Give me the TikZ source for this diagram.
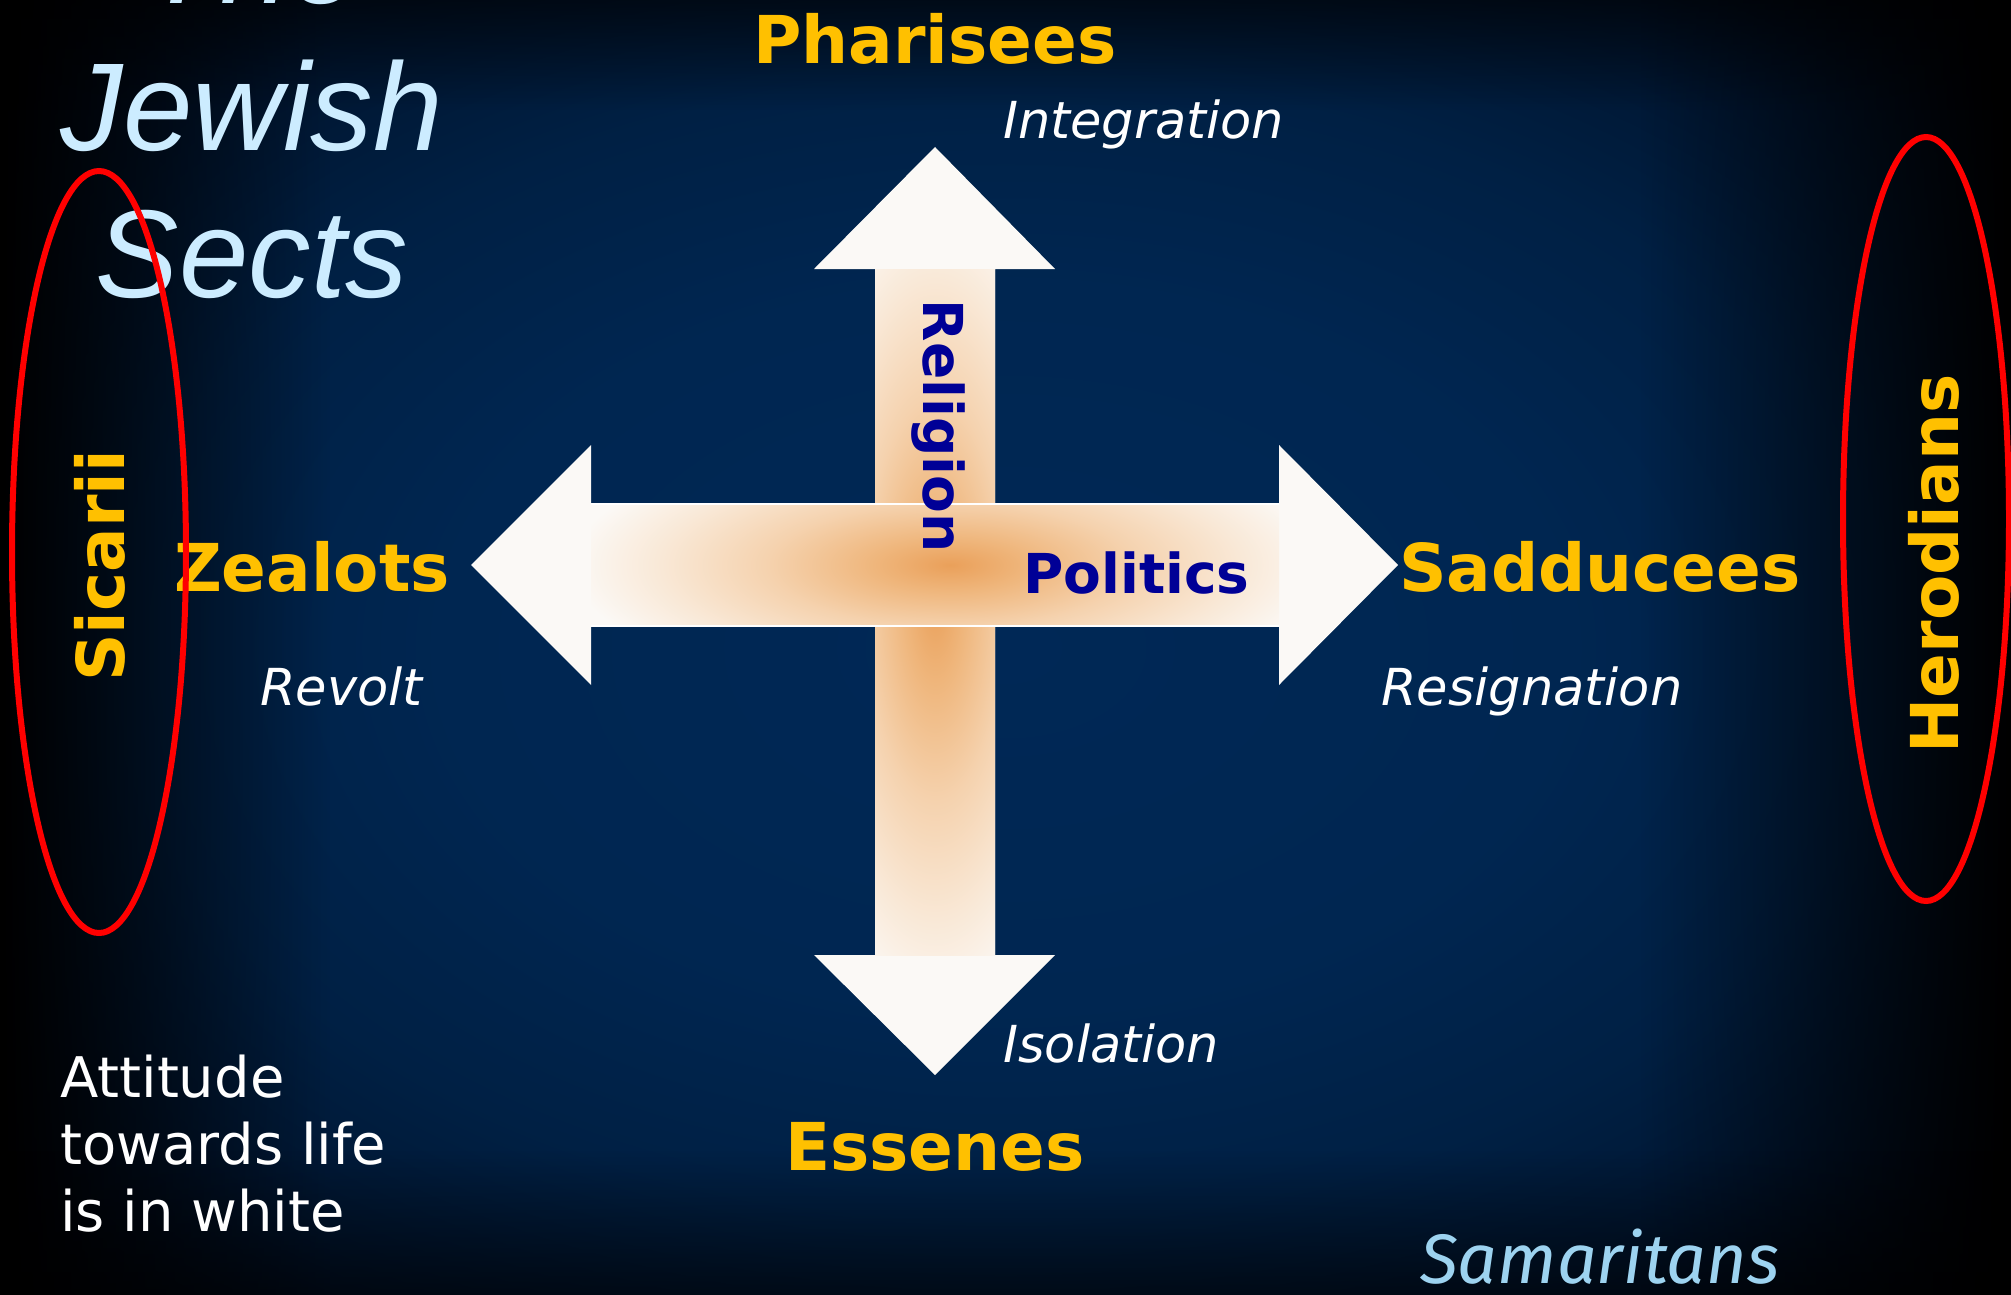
\documentclass[tikz,border=0pt]{standalone}
\usepackage{fontspec}
\usetikzlibrary{fadings}
\setmainfont{DejaVu Sans}
\newfontfamily\titlefont{Liberation Sans}
\newfontfamily\samfont{Fira Sans}
\definecolor{gold}{RGB}{255,192,0}
\definecolor{titleblue}{RGB}{204,236,255}
\definecolor{samblue}{RGB}{157,211,240}
\definecolor{dblue}{RGB}{0,0,150}
\definecolor{bgA}{RGB}{0,40,86}
\definecolor{bgB}{RGB}{0,38,81}
\definecolor{bgC}{RGB}{0,32,68}
\definecolor{bgD}{RGB}{0,21,47}
\definecolor{bgE}{RGB}{0,12,28}
\definecolor{arrowwhite}{RGB}{251,249,246}
\definecolor{glowA}{RGB}{234,160,90}
\definecolor{glowB}{RGB}{239,182,124}
\definecolor{glowC}{RGB}{245,210,174}
\definecolor{glowD}{RGB}{249,232,214}
\pgfdeclareradialshading{bgshade}{\pgfpoint{0bp}{0bp}}{color(0bp)=(bgA); color(14bp)=(bgB); color(22bp)=(bgC); color(29bp)=(bgD); color(35bp)=(bgE); color(50bp)=(black)}
\pgfdeclareradialshading{glow}{\pgfpoint{0bp}{0bp}}{color(0bp)=(glowA); color(5bp)=(glowB); color(12bp)=(glowC); color(19bp)=(glowD); color(25bp)=(arrowwhite); color(50bp)=(arrowwhite)}
\tikzset{
  sect/.style={font=\bfseries\fontsize{66}{79}\selectfont, text=gold, inner sep=0pt},
  attitude/.style={font=\itshape\fontsize{51}{61}\selectfont, text=white, inner sep=0pt},
  axislabel/.style={font=\bfseries\fontsize{55}{66}\selectfont, text=dblue, inner sep=0pt},
  ring/.style={draw=red, line width=6pt},
  arrowbody/.style={fill=arrowwhite},
  arrowedge/.style={draw=white, line width=1.5pt},
}
\begin{document}
\begin{tikzpicture}[x=1pt,y=-1pt]
\useasboundingbox (0,0) rectangle (2011,1295);
\clip (0,0) rectangle (2011,1295);
% background
\shade[shading=bgshade] (0,0) rectangle (2011,1295);
\fill[black, path fading=east] (0,0) rectangle (330,1295);
\fill[black, path fading=west] (1640,0) rectangle (2011,1295);
\fill[black, path fading=south, opacity=0.6] (0,0) rectangle (2011,110);
\fill[black, path fading=north, opacity=0.6] (0,1150) rectangle (2011,1295);
% vertical double arrow
\fill[arrowbody] (935,147) -- (1055,269) -- (995,269) -- (995,955) -- (1055,955) -- (935,1075)
  -- (814,955) -- (875,955) -- (875,269) -- (814,269) -- cycle;
\begin{scope}
  \clip (875,269) rectangle (995,955);
  \shade[shading=glow] (935,600) ellipse (150 and 420);
\end{scope}
% horizontal double arrow
\fill[arrowbody] (471,565) -- (591,445) -- (591,504) -- (1279,504) -- (1279,445) -- (1398,565)
  -- (1279,685) -- (1279,626) -- (591,626) -- (591,685) -- cycle;
\begin{scope}
  \clip (591,504) rectangle (1279,626);
  \shade[shading=glow] (950,565) ellipse (380 and 130);
\end{scope}
\draw[arrowedge] (591,504) -- (1279,504) (591,626) -- (1279,626);
% title
\node[font=\titlefont\itshape\fontsize{125}{147}\selectfont, text=titleblue, align=center, inner sep=0pt, anchor=south] (title) at (252,299) {The\\Jewish\\Sects};
% sect names
\node[sect, anchor=base] (pharisees) at (935,64) {Pharisees};
\node[sect, anchor=base] (essenes) at (935,1170) {Essenes};
\node[sect, anchor=base] (zealots) at (312,591) {Zealots};
\node[sect, anchor=base] (sadducees) at (1600,591) {Sadducees};
\node[sect, anchor=base, rotate=90] (sicarii) at (124,566) {Sicarii};
\node[sect, anchor=base, rotate=90] (herodians) at (1958,564) {Herodians};
% attitudes
\node[attitude, anchor=base west] (integration) at (1003,139) {Integration};
\node[attitude, anchor=base west] (revolt) at (260,705) {Revolt};
\node[attitude, anchor=base west] (resignation) at (1381,705) {Resignation};
\node[attitude, anchor=base west] (isolation) at (1003,1062) {Isolation};
% axis labels
\node[axislabel, anchor=base, rotate=-90] (religion) at (923,426) {Religion};
\node[axislabel, anchor=base west] (politics) at (1023,593) {Politics};
% rings
\draw[ring] (99,552) ellipse (87 and 381);
\draw[ring] (1926,519) ellipse (83 and 382);
% notes
\node[font=\fontsize{56}{67}\selectfont, text=white, align=left, inner sep=0pt, anchor=north west] (note) at (60,1055) {Attitude\\towards life\\is in white};
\node[font=\samfont\itshape\fontsize{70}{84}\selectfont, text=samblue, inner sep=0pt, anchor=base west] (samaritans) at (1420,1283) {Samaritans};
\end{tikzpicture}
\end{document}
